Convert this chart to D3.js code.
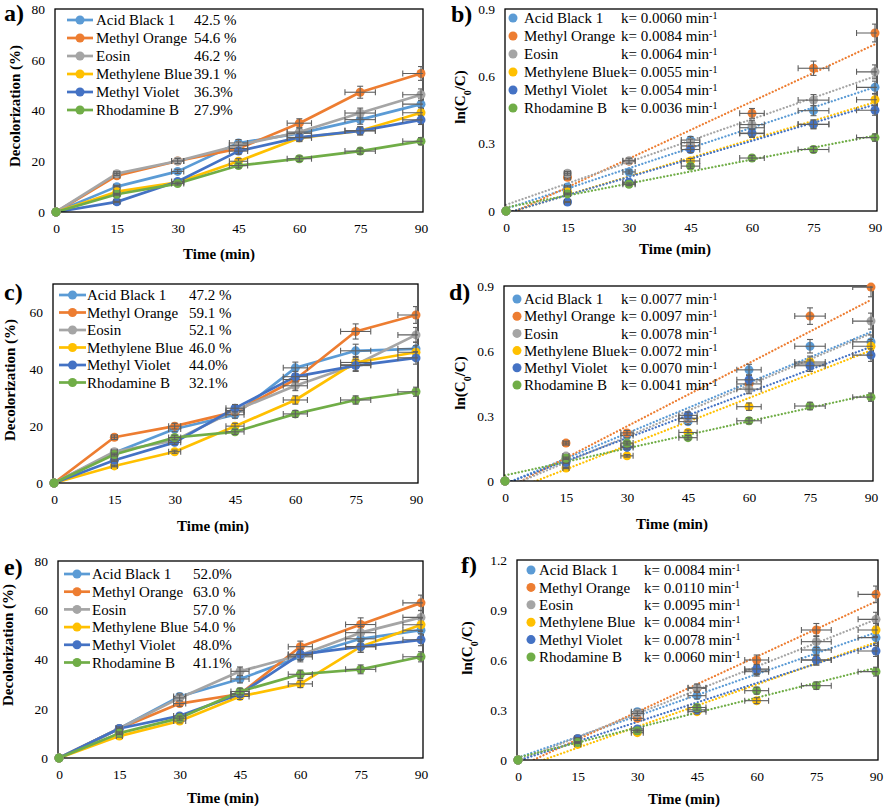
<!DOCTYPE html>
<html><head><meta charset="utf-8">
<script src="https://cdn.jsdelivr.net/npm/d3@7"></script>
<style>
body{margin:0;background:#fff;}
svg text{font-family:"Liberation Serif","Times New Roman",serif;fill:#000;}
</style></head><body>
<svg id="chart" width="886" height="810"></svg>
<script>
// ---------- data ----------
const times = [0, 15, 30, 45, 60, 75, 90];
const xTicks = [0, 15, 30, 45, 60, 75, 90];
const dyes = ["Acid Black 1", "Methyl Orange", "Eosin", "Methylene Blue", "Methyl Violet", "Rhodamine B"];
const colors = ["#5B9BD5", "#ED7D31", "#A5A5A5", "#FFC000", "#4472C4", "#70AD47"];

// a) decolorization (%)
const decolA = [
  [0, 10, 16, 27.2, 31, 36.4, 42.5],
  [0, 14.3, 20.1, 25, 35, 47.2, 54.6],
  [0, 15.1, 20.1, 26.3, 31.5, 39, 46.2],
  [0, 8, 11.7, 20, 29.2, 32, 39.1],
  [0, 4, 12, 24, 29.4, 32, 36.3],
  [0, 7, 11.2, 18.3, 21, 24, 27.9]
];
const legendA = ["42.5 %", "54.6 %", "46.2 %", "39.1 %", "36.3%", "27.9%"];

// b) ln(C0/C)
const lnB = [
  [0, 0.107, 0.174, 0.316, 0.371, 0.447, 0.551],
  [0, 0.15, 0.222, 0.29, 0.435, 0.636, 0.793],
  [0, 0.168, 0.224, 0.305, 0.385, 0.494, 0.62],
  [0, 0.085, 0.124, 0.223, 0.345, 0.386, 0.496],
  [0, 0.04, 0.128, 0.274, 0.347, 0.386, 0.449],
  [0, 0.076, 0.119, 0.2, 0.236, 0.274, 0.327]
];
const kB = ["0.0060", "0.0084", "0.0064", "0.0055", "0.0054", "0.0036"];

// c) decolorization (%)
const decolC = [
  [0, 10.6, 19, 24, 40.5, 46.5, 47.2],
  [0, 16.1, 20, 25, 36.4, 53.3, 59.1],
  [0, 11, 15, 25.5, 34.2, 41.6, 52.1],
  [0, 6, 11, 20, 29.2, 42.4, 46],
  [0, 8, 14.3, 26.3, 37.4, 41.3, 44],
  [0, 10, 16, 18, 24.3, 29.2, 32.1]
];
const legendC = ["47.2 %", "59.1 %", "52.1 %", "46.0 %", "44.0%", "32.1%"];

// d) ln(C0/C)
const lnD = [
  [0, 0.1, 0.21, 0.274, 0.513, 0.622, 0.642],
  [0, 0.175, 0.222, 0.288, 0.448, 0.761, 0.895],
  [0, 0.115, 0.16, 0.29, 0.424, 0.54, 0.738],
  [0, 0.06, 0.116, 0.224, 0.343, 0.549, 0.622],
  [0, 0.085, 0.155, 0.303, 0.467, 0.532, 0.581],
  [0, 0.105, 0.175, 0.2, 0.278, 0.346, 0.387]
];
const kD = ["0.0077", "0.0097", "0.0078", "0.0072", "0.0070", "0.0041"];

// e) decolorization (%)
const decolE = [
  [0, 12, 25, 32.1, 41.1, 48.4, 51.9],
  [0, 12, 22.1, 26, 45.2, 54.2, 63],
  [0, 12, 24.4, 35.2, 41.8, 50.9, 57.1],
  [0, 8.9, 15, 25, 30.1, 45.2, 54.1],
  [0, 12, 17.1, 26, 42.1, 45.2, 48],
  [0, 10.1, 16.2, 27, 34, 36, 41.1]
];
const legendE = ["52.0%", "63.0 %", "57.0 %", "54.0 %", "48.0%", "41.1%"];

// f) ln(C0/C)
const lnF = [
  [0, 0.128, 0.29, 0.386, 0.53, 0.66, 0.734],
  [0, 0.128, 0.25, 0.43, 0.6, 0.78, 0.994],
  [0, 0.128, 0.28, 0.434, 0.54, 0.71, 0.844],
  [0, 0.094, 0.164, 0.29, 0.356, 0.6, 0.78],
  [0, 0.128, 0.186, 0.301, 0.546, 0.6, 0.654],
  [0, 0.105, 0.176, 0.315, 0.416, 0.446, 0.53]
];
const kF = ["0.0084", "0.0110", "0.0095", "0.0084", "0.0078", "0.0060"];

const yTicksDecol80 = [0, 20, 40, 60, 80];
const yTicksDecol70 = [0, 20, 40, 60];
const yTicksLn09 = [0, 0.3, 0.6, 0.9];
const yTicksLn12 = [0, 0.3, 0.6, 0.9, 1.2];
const errFrac = 0.05; // percentage error bars (x and y)

// ---------- layout ----------
const panels = [
  {id:"a", label:"a)", kind:"decol", values:decolA, legVals:legendA, yMax:80, yTicks:yTicksDecol80,
   box:{l:55, r:423, t:9, b:212}, lab:{x:4, y:21}, xt:{x:219, y:259}, yt:{x:15, y:106},
   leg:{s1:67, s2:93, tx:96, vx:194, y0:20, dy:18}},
  {id:"b", label:"b)", kind:"ln", values:lnB, legVals:kB, yMax:0.9, yTicks:yTicksLn09,
   box:{l:505, r:877, t:9, b:211}, lab:{x:451, y:22}, xt:{x:675, y:254}, yt:{x:460, y:97},
   leg:{mx:513, tx:524, vx:621, y0:18, dy:18}},
  {id:"c", label:"c)", kind:"decol", values:decolC, legVals:legendC, yMax:70, yTicks:yTicksDecol70,
   box:{l:53, r:418, t:284, b:483}, lab:{x:4, y:300}, xt:{x:213, y:531}, yt:{x:10, y:380},
   leg:{s1:59, s2:86, tx:87, vx:189, y0:295, dy:17.5}},
  {id:"d", label:"d)", kind:"ln", values:lnD, legVals:kD, yMax:0.9, yTicks:yTicksLn09,
   box:{l:504, r:873, t:286, b:481}, lab:{x:449, y:300}, xt:{x:672, y:529}, yt:{x:460, y:383},
   leg:{mx:517, tx:524, vx:621, y0:299, dy:17.2}},
  {id:"e", label:"e)", kind:"decol", values:decolE, legVals:legendE, yMax:80, yTicks:yTicksDecol80,
   box:{l:58, r:423, t:561, b:758}, lab:{x:4, y:575}, xt:{x:223, y:803}, yt:{x:8, y:645},
   leg:{s1:64, s2:90, tx:92, vx:193, y0:574, dy:17.7}},
  {id:"f", label:"f)", kind:"ln", values:lnF, legVals:kF, yMax:1.2, yTicks:yTicksLn12,
   box:{l:517, r:878, t:560, b:760}, lab:{x:461, y:573}, xt:{x:684, y:804}, yt:{x:467, y:648},
   leg:{mx:531, tx:539, vx:644, y0:570, dy:17.4}}
];

const svg = d3.select("#chart");
const defs = svg.append("defs");
const errColor = "#5f5f5f";
const markerR = 4.5;

function linFit(xs, ys) {
  const n = xs.length, mx = d3.mean(xs), my = d3.mean(ys);
  let sxy = 0, sxx = 0;
  for (let i = 0; i < n; i++) { sxy += (xs[i]-mx)*(ys[i]-my); sxx += (xs[i]-mx)**2; }
  const m = sxy / sxx;
  return {m, b: my - m*mx};
}

panels.forEach(p => {
  const B = p.box;
  const x = d3.scaleLinear().domain([0, 90]).range([B.l + 1, B.r - 2]);
  const y = d3.scaleLinear().domain([0, p.yMax]).range([B.b, B.t]);
  const g = svg.append("g");

  defs.append("clipPath").attr("id", "clip-" + p.id)
    .append("rect").attr("x", B.l).attr("y", B.t).attr("width", B.r - B.l).attr("height", B.b - B.t);

  // axes (labels only)
  const fmt = p.kind === "ln" ? (d => d === 0 ? "0" : d3.format(".1f")(d)) : d3.format("d");
  const xa = g.append("g").attr("transform", `translate(0,${B.b})`)
    .call(d3.axisBottom(x).tickValues(xTicks).tickSize(0).tickPadding(11));
  const ya = g.append("g").attr("transform", `translate(${B.l},0)`)
    .call(d3.axisLeft(y).tickValues(p.yTicks).tickFormat(fmt).tickSize(0).tickPadding(10));
  [xa, ya].forEach(a => {
    a.select(".domain").remove();
    a.selectAll("text").style("font-family", '"Liberation Serif","Times New Roman",serif')
      .style("font-size", "13.5px").attr("fill", "#000");
  });

  const plot = g.append("g").attr("clip-path", `url(#clip-${p.id})`);

  // trendlines (ln panels) or connecting lines (decol panels)
  if (p.kind === "ln") {
    p.values.forEach((vals, i) => {
      const fit = linFit(times, vals);
      plot.append("line")
        .attr("x1", x(0)).attr("y1", y(fit.b))
        .attr("x2", x(90)).attr("y2", y(fit.m*90 + fit.b))
        .attr("stroke", colors[i]).attr("stroke-width", 2.2)
        .attr("stroke-dasharray", "0.1,3.4").attr("stroke-linecap", "round");
    });
  } else {
    const line = d3.line().x((d, j) => x(times[j])).y(d => y(d));
    p.values.forEach((vals, i) => {
      plot.append("path").datum(vals).attr("d", line)
        .attr("fill", "none").attr("stroke", colors[i]).attr("stroke-width", 2.7)
        .attr("stroke-linejoin", "round");
    });
  }

  // plot border
  g.append("rect").attr("x", B.l).attr("y", B.t).attr("width", B.r - B.l).attr("height", B.b - B.t)
    .attr("fill", "none").attr("stroke", "#000").attr("stroke-width", 1.3);

  // markers (unclipped) + error bars (clipped)
  p.values.forEach((vals, i) => {
    const mg = g.append("g");
    vals.forEach((v, j) => {
      mg.append("circle").attr("cx", x(times[j])).attr("cy", y(v)).attr("r", markerR).attr("fill", colors[i]);
    });
    const eg = g.append("g").attr("clip-path", `url(#clip-${p.id})`)
      .attr("stroke", errColor).attr("stroke-width", 1.1);
    vals.forEach((v, j) => {
      const t = times[j];
      const ex = t * errFrac, ey = v * errFrac;
      const cx = x(t), cy = y(v);
      const cap = 3;
      if (ex > 0) {
        const x1 = x(t - ex), x2 = x(t + ex);
        eg.append("line").attr("x1", x1).attr("x2", x2).attr("y1", cy).attr("y2", cy);
        eg.append("line").attr("x1", x1).attr("x2", x1).attr("y1", cy - cap).attr("y2", cy + cap);
        eg.append("line").attr("x1", x2).attr("x2", x2).attr("y1", cy - cap).attr("y2", cy + cap);
      }
      if (ey > 0) {
        const y1 = y(v - ey), y2 = y(v + ey);
        eg.append("line").attr("x1", cx).attr("x2", cx).attr("y1", y1).attr("y2", y2);
        eg.append("line").attr("x1", cx - cap).attr("x2", cx + cap).attr("y1", y1).attr("y2", y1);
        eg.append("line").attr("x1", cx - cap).attr("x2", cx + cap).attr("y1", y2).attr("y2", y2);
      }
    });
  });

  // legend
  const L = p.leg;
  dyes.forEach((name, i) => {
    const ry = L.y0 + i * L.dy;
    if (p.kind === "decol") {
      g.append("line").attr("x1", L.s1).attr("x2", L.s2).attr("y1", ry).attr("y2", ry)
        .attr("stroke", colors[i]).attr("stroke-width", 2.7);
      g.append("circle").attr("cx", (L.s1 + L.s2) / 2).attr("cy", ry).attr("r", markerR).attr("fill", colors[i]);
      g.append("text").attr("x", L.tx).attr("y", ry).attr("dy", "0.35em").style("font-size", "15px").text(name);
      g.append("text").attr("x", L.vx).attr("y", ry).attr("dy", "0.35em").style("font-size", "15px").text(p.legVals[i]);
    } else {
      g.append("circle").attr("cx", L.mx).attr("cy", ry).attr("r", markerR).attr("fill", colors[i]);
      g.append("text").attr("x", L.tx).attr("y", ry).attr("dy", "0.35em").style("font-size", "15px").text(name);
      const kt = g.append("text").attr("x", L.vx).attr("y", ry).attr("dy", "0.35em").style("font-size", "15px");
      kt.append("tspan").text("k= " + p.legVals[i] + " min");
      kt.append("tspan").attr("dy", "-0.45em").style("font-size", "10px").text("-1");
    }
  });

  // panel label
  g.append("text").attr("x", p.lab.x).attr("y", p.lab.y).style("font-size", "24px")
    .style("font-weight", "bold").text(p.label);

  // axis titles
  g.append("text").attr("x", p.xt.x).attr("y", p.xt.y).attr("text-anchor", "middle")
    .style("font-size", "15px").style("font-weight", "bold").text("Time (min)");
  const yt = g.append("text").attr("transform", `translate(${p.yt.x},${p.yt.y}) rotate(-90)`)
    .attr("text-anchor", "middle").attr("dy", "0.35em")
    .style("font-size", "15px").style("font-weight", "bold");
  if (p.kind === "decol") {
    yt.text("Decolorization (%)");
  } else {
    yt.append("tspan").text("ln(C");
    yt.append("tspan").attr("baseline-shift", "sub").style("font-size", "10px").text("0");
    yt.append("tspan").text("/C)");
  }
});
</script>
</body></html>
